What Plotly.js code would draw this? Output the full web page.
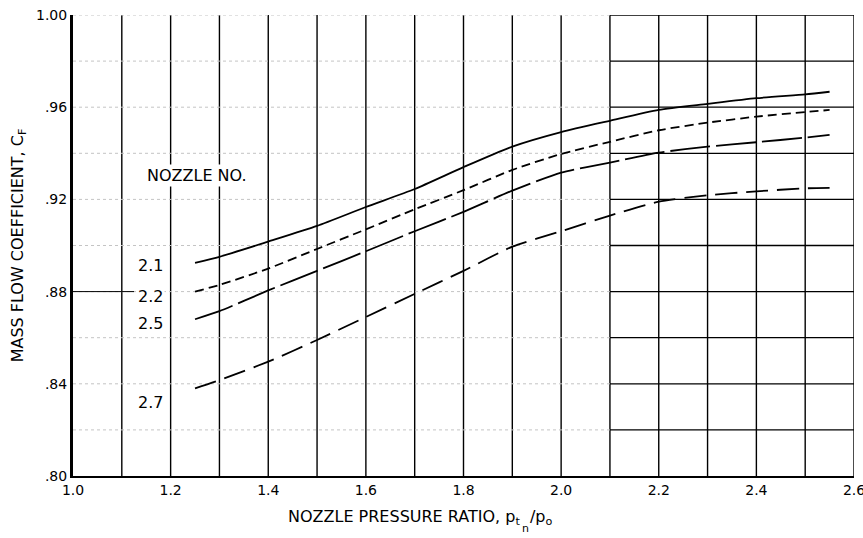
<!DOCTYPE html>
<html>
<head>
<meta charset="utf-8">
<script src="https://cdn.plot.ly/plotly-3.0.1.min.js"></script>
<style>html,body{margin:0;padding:0;background:#fff;}#chart{width:863px;height:538px;}</style>
</head>
<body>
<div id="chart"></div>
<script>
// Pressure ratio stations
const xVals = [1.25, 1.3, 1.4, 1.5, 1.6, 1.7, 1.8, 1.9, 2.0, 2.1, 2.2, 2.3, 2.4, 2.5, 2.55];
// Mass flow coefficient per nozzle
const cf21 = [0.8925, 0.8951, 0.9017, 0.9085, 0.9167, 0.9245, 0.934, 0.9429, 0.9492, 0.9541, 0.9588, 0.9614, 0.9639, 0.9656, 0.9667];
const cf22 = [0.880, 0.8829, 0.890, 0.8985, 0.907, 0.9157, 0.924, 0.9328, 0.9397, 0.945, 0.950, 0.9533, 0.9559, 0.9579, 0.9588];
const cf25 = [0.868, 0.8715, 0.8805, 0.889, 0.8975, 0.9062, 0.9146, 0.9238, 0.9316, 0.936, 0.9403, 0.9429, 0.9448, 0.9468, 0.948];
const cf27 = [0.838, 0.8416, 0.8496, 0.859, 0.869, 0.879, 0.889, 0.8995, 0.9062, 0.913, 0.919, 0.9218, 0.9235, 0.9248, 0.925];
const nozzleNames = ['2.1', '2.2', '2.5', '2.7'];
const labelY = [0.8915, 0.878, 0.866, 0.832];

const xTicks = [1.0, 1.2, 1.4, 1.6, 1.8, 2.0, 2.2, 2.4, 2.6];
const xTickText = ['1.0', '1.2', '1.4', '1.6', '1.8', '2.0', '2.2', '2.4', '2.6'];
const yTicks = [0.80, 0.84, 0.88, 0.92, 0.96, 1.00];
const yTickText = ['.80', '.84', '.88', '.92', '.96', '1.00'];
const hGrid = [0.82, 0.84, 0.86, 0.88, 0.90, 0.92, 0.94, 0.96, 0.98, 1.00];
const vGrid = [1.1, 1.2, 1.3, 1.4, 1.5, 1.6, 1.7, 1.8, 1.9, 2.0, 2.1, 2.2, 2.3, 2.4, 2.5, 2.6];

const FONT = 'DejaVu Sans, Liberation Sans, sans-serif';
const dashes = ['solid', '9px,5px', '40px,6px', '22px,9px'];
const series = [cf21, cf22, cf25, cf27];

const traces = series.map((ys, i) => ({
  x: xVals, y: ys, type: 'scatter', mode: 'lines',
  line: {color: '#000', width: 1.8, dash: dashes[i], shape: 'spline', smoothing: 0.6},
  hoverinfo: 'skip', showlegend: false
}));

const shapes = [];
hGrid.forEach(v => {
  shapes.push({type: 'line', xref: 'x', yref: 'y', x0: 1.0, x1: 2.1, y0: v, y1: v,
    line: {color: '#c4c4c4', width: 1, dash: 'dot'}, layer: 'below'});
  shapes.push({type: 'line', xref: 'x', yref: 'y', x0: 2.1, x1: 2.6, y0: v, y1: v,
    line: {color: '#000', width: 1.3}, layer: 'below'});
});
vGrid.forEach(v => {
  shapes.push({type: 'line', xref: 'x', yref: 'paper', x0: v, x1: v, y0: 0, y1: 1,
    line: {color: '#000', width: 1.4}, layer: 'below'});
});
// leader line to 2.2 label
shapes.push({type: 'line', xref: 'x', yref: 'y', x0: 1.0, x1: 1.125, y0: 0.88, y1: 0.88,
  line: {color: '#000', width: 1}});

const annotations = [];
nozzleNames.forEach((n, i) => {
  annotations.push({x: 1.158, y: labelY[i], xref: 'x', yref: 'y', text: n, showarrow: false,
    font: {family: FONT, size: 16, color: '#000'}, xanchor: 'center', yanchor: 'middle',
    bgcolor: '#fff'});
});
annotations.push({x: 1.148, y: 0.9305, xref: 'x', yref: 'y', text: 'NOZZLE NO.', showarrow: false,
  font: {family: FONT, size: 16, color: '#000'}, xanchor: 'left', yanchor: 'middle', bgcolor: '#fff'});
// x axis title
annotations.push({x: 0.445, y: -0.062, xref: 'paper', yref: 'paper', yanchor: 'top', xanchor: 'center',
  text: 'NOZZLE PRESSURE RATIO, p<sub>t</sub>  /p<sub>o</sub>', showarrow: false,
  font: {family: FONT, size: 16, color: '#000'}});
annotations.push({x: 0.445, y: -0.062, xref: 'paper', yref: 'paper', yanchor: 'top', xanchor: 'center',
  xshift: 105, yshift: -15, text: 'n', showarrow: false,
  font: {family: FONT, size: 11, color: '#000'}});

const layout = {
  width: 863, height: 538,
  margin: {l: 73, r: 9, t: 15, b: 62},
  paper_bgcolor: '#fff', plot_bgcolor: '#fff',
  showlegend: false,
  xaxis: {
    range: [1.0, 2.6], showgrid: false,
    tickmode: 'array', tickvals: xTicks, ticktext: xTickText, ticks: '',
    ticklabeloverflow: 'allow',
    showline: true, linecolor: '#000', linewidth: 2, zeroline: false,
    tickfont: {family: FONT, size: 14, color: '#000'}
  },
  yaxis: {
    range: [0.80, 1.00], showgrid: false, tickmode: 'array', tickvals: yTicks, ticktext: yTickText,
    ticks: '', showline: true, linecolor: '#000', linewidth: 3, zeroline: false,
    tickfont: {family: FONT, size: 14, color: '#000'},
    title: {text: 'MASS FLOW COEFFICIENT, C<sub>F</sub>', font: {family: FONT, size: 16, color: '#000'}, standoff: 9}
  },
  shapes: shapes,
  annotations: annotations
};

Plotly.newPlot('chart', traces, layout, {staticPlot: true, displayModeBar: false});
</script>
</body>
</html>
